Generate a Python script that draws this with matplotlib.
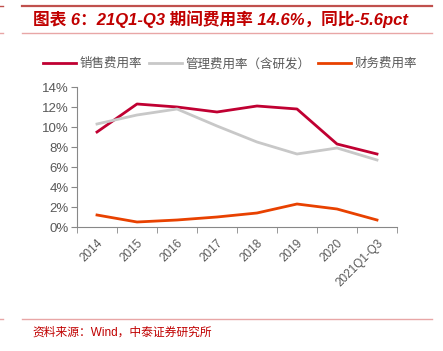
import matplotlib.pyplot as plt
from matplotlib.ticker import FuncFormatter, FixedLocator
from matplotlib.lines import Line2D

years = ["2014", "2015", "2016", "2017", "2018", "2019", "2020", "2021Q1-Q3"]
sales_rate = [9.5, 12.3, 12.0, 11.5, 12.1, 11.8, 8.3, 7.3]
admin_rate = [10.3, 11.2, 11.8, 10.1, 8.5, 7.3, 7.9, 6.7]
fin_rate = [1.2, 0.5, 0.7, 1.0, 1.4, 2.3, 1.8, 0.7]

plt.rcParams['font.family'] = ['Liberation Sans', 'Noto Sans CJK SC', 'DejaVu Sans']

W, H = 443, 351
fig = plt.figure(figsize=(W / 100, H / 100), dpi=100)


def fx(px):
    return px / W


def fy(py):
    return 1 - py / H


# decoration lines
fig.add_artist(Line2D([fx(22), fx(432)], [fy(6), fy(6)], color="#c0504d", lw=1.6))
fig.add_artist(Line2D([fx(22), fx(432)], [fy(33), fy(33)], color="#e8a6a6", lw=1.0))
fig.add_artist(Line2D([0, fx(3)], [fy(6), fy(6)], color="#c0504d", lw=1.0))
fig.add_artist(Line2D([0, fx(3)], [fy(33), fy(33)], color="#e8a6a6", lw=1.0))
fig.add_artist(Line2D([fx(22), fx(432)], [fy(319), fy(319)], color="#e8a6a6", lw=1.0))
fig.add_artist(Line2D([0, fx(3)], [fy(319), fy(319)], color="#e8a6a6", lw=1.0))

fig.text(fx(33), fy(19.5), "图表 6：21Q1-Q3 期间费用率 14.6%，同比-5.6pct",
         fontsize=12, fontweight="bold", style="italic", color="#c00000",
         va="center", ha="left")
fig.text(fx(32), fy(333), "资料来源：Wind，中泰证券研究所", fontsize=8.5,
         color="#c00000", va="center", ha="left")

ax = fig.add_axes([fx(77), fy(227), fx(320), 140 / H])
x = list(range(len(years)))
l1, = ax.plot(x, sales_rate, color="#c00032", lw=2.0, label="销售费用率")
l2, = ax.plot(x, admin_rate, color="#c8c8c8", lw=2.0, label="管理费用率（含研发）")
l3, = ax.plot(x, fin_rate, color="#e84100", lw=2.0, label="财务费用率")

ax.set_xlim(-0.5, len(years) - 0.5)
ax.set_ylim(0, 14)
ax.set_yticks(range(0, 15, 2))
ax.yaxis.set_major_formatter(FuncFormatter(lambda v, p: f"{v:.0f}%"))
ax.set_xticks(x)
ax.set_xticklabels(years, rotation=45, ha="right", rotation_mode="anchor")
ax.xaxis.set_minor_locator(FixedLocator([i - 0.5 for i in range(len(years) + 1)]))
ax.tick_params(axis="x", which="major", length=0, pad=7, labelsize=8.5, labelcolor="#595959")
ax.tick_params(axis="x", which="minor", length=4, color="#888888", direction="out")
ax.tick_params(axis="y", length=4, color="#888888", labelsize=9.5, labelcolor="#595959", pad=2)
for s in ["top", "right"]:
    ax.spines[s].set_visible(False)
for s in ["left", "bottom"]:
    ax.spines[s].set_color("#888888")
    ax.spines[s].set_linewidth(0.8)

fig.legend(handles=[l1, l2, l3], loc="center", bbox_to_anchor=(fx(230), fy(64)),
           ncol=3, frameon=False, fontsize=9, labelcolor="#595959",
           handlelength=2.6, handletextpad=0.3, columnspacing=0.6)

fig.savefig("out.png", dpi=100)
